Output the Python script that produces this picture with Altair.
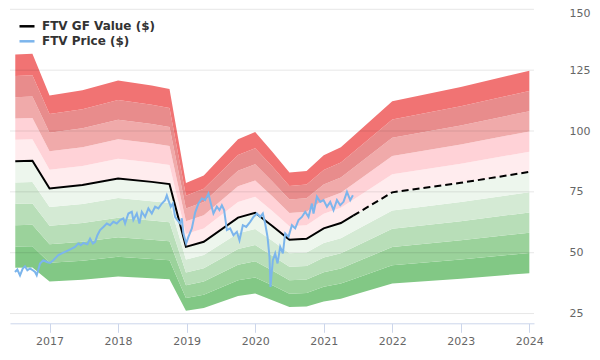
import altair as alt
import pandas as pd

# GF Value (solid up to the last price date, then dashed estimate)
gf_years = [2016.50, 2016.75, 2017.00, 2017.48, 2018.00, 2018.49, 2018.75, 2018.99,
            2019.25, 2019.75, 2020.00, 2020.25, 2020.50, 2020.75, 2021.00, 2021.25,
            2021.43, 2022.00, 2023.00, 2024.00]
gf_values = [87.6, 87.8, 76.4, 77.8, 80.5, 79.1, 78.2, 52.4,
             54.5, 64.4, 66.4, 61.0, 55.3, 55.7, 60.0, 62.2,
             65.2, 74.8, 78.7, 83.2]
gf_estimate_from = 2021.43

price_years = [2016.496, 2016.530, 2016.569, 2016.609, 2016.642, 2016.676, 2016.715, 2016.755,
               2016.788, 2016.813, 2016.861, 2016.909, 2016.959, 2017.007, 2017.055, 2017.128,
               2017.201, 2017.274, 2017.324, 2017.372, 2017.420, 2017.455, 2017.493, 2017.552,
               2017.591, 2017.631, 2017.664, 2017.698, 2017.737, 2017.785, 2017.835, 2017.883,
               2017.931, 2017.981, 2018.029, 2018.077, 2018.102, 2018.150, 2018.200, 2018.223,
               2018.273, 2018.311, 2018.346, 2018.394, 2018.442, 2018.492, 2018.540, 2018.588,
               2018.638, 2018.686, 2018.711, 2018.734, 2018.769, 2018.799, 2018.832, 2018.866,
               2018.905, 2018.930, 2018.953, 2018.993, 2019.026, 2019.076, 2019.124, 2019.172,
               2019.222, 2019.270, 2019.318, 2019.353, 2019.391, 2019.441, 2019.479, 2019.514,
               2019.547, 2019.587, 2019.635, 2019.683, 2019.733, 2019.771, 2019.820, 2019.869,
               2019.927, 2019.975, 2020.025, 2020.073, 2020.112, 2020.146, 2020.180, 2020.209,
               2020.223, 2020.258, 2020.292, 2020.326, 2020.365, 2020.404, 2020.438, 2020.486,
               2020.536, 2020.584, 2020.632, 2020.682, 2020.730, 2020.778, 2020.828, 2020.851,
               2020.901, 2020.949, 2020.997, 2021.047, 2021.095, 2021.143, 2021.193, 2021.241,
               2021.289, 2021.339, 2021.387, 2021.426]
price_values = [42.1, 43.1, 40.7, 43.5, 44.4, 42.8, 43.5, 42.8,
                42.1, 40.7, 45.6, 46.9, 46.2, 45.8, 46.9, 49.0,
                50.0, 51.0, 51.7, 52.4, 53.8, 53.1, 54.0, 53.5,
                55.8, 53.8, 54.4, 57.2, 59.3, 60.6, 62.0, 61.3,
                62.7, 62.0, 63.4, 64.1, 62.0, 66.1, 66.8, 63.4,
                66.1, 62.0, 66.8, 64.7, 68.2, 66.1, 68.9, 68.2,
                70.2, 71.6, 73.6, 71.6, 68.9, 70.2, 64.7, 63.4,
                62.0, 64.1, 57.9, 53.8, 56.5, 60.0, 66.5, 70.2,
                72.3, 71.6, 74.3, 70.2, 66.1, 68.9, 67.5, 69.5,
                67.5, 59.3, 60.0, 57.2, 58.6, 55.1, 61.3, 60.6,
                62.7, 64.7, 66.1, 64.7, 66.1, 62.0, 56.5, 48.3,
                35.9, 46.9, 49.7, 45.6, 52.4, 49.7, 57.9, 56.5,
                61.3, 60.0, 63.4, 64.7, 66.8, 64.7, 70.2, 66.1,
                73.0, 70.9, 71.6, 68.9, 70.9, 67.5, 71.6, 69.5,
                70.9, 75.0, 71.6, 73.6]

band_mults = [0.5, 0.6, 0.7, 0.8, 0.9, 1.0, 1.1, 1.2, 1.3, 1.4, 1.5]
band_colors = ["#82c885", "#9bd29b", "#b8deb8", "#d4ead4", "#edf6ed",
               "#ffecee", "#ffd2d7", "#f0aaaa", "#e88c8c", "#f17373"]

y_ticks = [25, 50, 75, 100, 125, 150]
x_ticks = [2017, 2018, 2019, 2020, 2021, 2022, 2023, 2024]

GF = "FTV GF Value ($)"
PR = "FTV Price ($)"

band_rows = []
for i in range(len(band_colors)):
    for yr, v in zip(gf_years, gf_values):
        band_rows.append({"year": yr, "lo": v * band_mults[i], "hi": v * band_mults[i + 1], "band": i})
bands = pd.DataFrame(band_rows)

line_rows = [{"year": yr, "value": v, "series": GF} for yr, v in zip(gf_years, gf_values) if yr <= gf_estimate_from]
line_rows += [{"year": yr, "value": v, "series": PR} for yr, v in zip(price_years, price_values)]
lines = pd.DataFrame(line_rows)
dashed = pd.DataFrame([{"year": yr, "value": v} for yr, v in zip(gf_years, gf_values) if yr >= gf_estimate_from])
grid = pd.DataFrame({"v": y_ticks})

xs = alt.Scale(domain=[2016.423, 2024.068], nice=False, zero=False)
ys = alt.Scale(domain=[21, 150], nice=False, zero=False)

x_axis = alt.Axis(values=x_ticks, format="d", grid=False, domainColor="#ccd6eb", tickColor="#ccd6eb",
                  tickSize=9, labelPadding=3, labelFontSize=11, labelColor="#666666", title=None,
                  labelFont="DejaVu Sans")
y_axis = alt.Axis(values=y_ticks, orient="right", grid=False, domain=False, ticks=False,
                  labelPadding=35, labelAlign="left", labelFontSize=11, labelColor="#666666",
                  title=None, labelFont="DejaVu Sans",
                  labelOffset=alt.expr("datum.value == 150 ? 4.5 : 0"))

area = alt.Chart(bands).mark_area(interpolate="linear").encode(
    x=alt.X("year:Q", scale=xs, axis=x_axis),
    y=alt.Y("lo:Q", scale=ys, axis=y_axis),
    y2="hi:Q",
    color=alt.Color("band:O", scale=alt.Scale(domain=list(range(len(band_colors))), range=band_colors), legend=None),
)

gridlines = alt.Chart(grid).mark_rule(color="#000000", opacity=0.1, strokeWidth=1).encode(
    y=alt.Y("v:Q", scale=ys),
)

line = alt.Chart(lines).mark_line(strokeWidth=2).encode(
    x=alt.X("year:Q", scale=xs),
    y=alt.Y("value:Q", scale=ys),
    color=alt.Color("series:N", scale=alt.Scale(domain=[GF, PR], range=["#000000", "#7cb5ec"]),
                    legend=alt.Legend(title=None, orient="none", legendX=8, legendY=8,
                                      symbolType="stroke", symbolStrokeWidth=2.5, symbolSize=225,
                                      labelFontSize=12, labelFontWeight="bold", labelColor="#333333",
                                      labelFont="DejaVu Sans", rowPadding=0, labelOffset=6)),
    detail="series:N",
    order="year:Q",
)

dash = alt.Chart(dashed).mark_line(strokeWidth=2, color="#000000", strokeDash=[7, 4]).encode(
    x=alt.X("year:Q", scale=xs),
    y=alt.Y("value:Q", scale=ys),
)

chart = alt.layer(area, gridlines, line, dash).resolve_scale(color="independent").properties(
    width=524, height=314,
    autosize=alt.AutoSizeParams(type="none"),
    padding={"left": 2, "top": 1.3, "right": 57, "bottom": 26},
).configure_view(stroke=None)

chart.save("out.html", embed_options={"renderer": "svg", "actions": False})
